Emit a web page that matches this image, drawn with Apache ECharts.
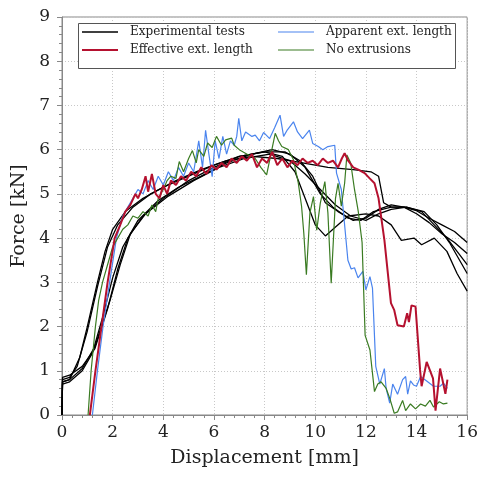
<!DOCTYPE html>
<html><head><meta charset="utf-8">
<script src="https://cdn.jsdelivr.net/npm/echarts@6/dist/echarts.min.js"></script>
<style>html,body{margin:0;padding:0;background:#fff}#c{width:481px;height:477px}</style>
</head><body><div id="c"></div>
<script>
// ---- Data (displacement [mm], force [kN]) ----
const xTicks = [0,2,4,6,8,10,12,14,16];
const yTicks = [0,1,2,3,4,5,6,7,8,9];
const seriesNames = ['Experimental tests','Effective ext. length','Apparent ext. length','No extrusions'];

const exp1 = [[0,0],[0.02,0.8],[0.3,0.85],[0.6,1.1],[1.0,1.9],[1.4,2.9],[1.8,3.8],[2.2,4.3],[2.8,4.7],[3.5,5.0],[4.5,5.3],[5.5,5.55],[6.5,5.75],[7.5,5.85],[8.5,5.8],[9.5,5.7],[10.5,5.6],[11.5,5.55],[12.2,5.5],[12.5,5.4],[12.7,4.8],[13.0,4.7],[13.5,4.7],[14.0,4.62],[14.5,4.45],[15.0,4.3],[15.5,4.15],[16,3.9]];
const exp2 = [[0,0],[0.02,0.75],[0.3,0.8],[0.7,1.3],[1.0,2.0],[1.4,3.0],[1.7,3.7],[2.0,4.2],[2.5,4.6],[3.2,4.9],[4,5.15],[5,5.4],[6,5.65],[7,5.85],[8,5.95],[8.7,5.85],[9.2,5.5],[9.6,4.9],[10.0,4.3],[10.4,4.05],[10.8,4.25],[11.3,4.5],[12,4.55],[12.5,4.5],[13,4.3],[13.4,3.95],[13.9,4.0],[14.2,3.85],[14.7,4.0],[15.2,3.7],[15.6,3.2],[16,2.8]];
const exp3 = [[0,0],[0.02,0.7],[0.3,0.75],[0.8,1.0],[1.2,1.4],[1.6,2.2],[2.0,3.1],[2.4,3.8],[3.0,4.4],[3.8,4.85],[4.6,5.15],[5.5,5.4],[6.5,5.7],[7.5,5.9],[8.3,6.0],[9.0,5.9],[9.6,5.6],[10.2,5.0],[10.7,4.7],[11.3,4.45],[11.8,4.4],[12.3,4.6],[13.0,4.7],[13.6,4.7],[14.3,4.6],[14.8,4.3],[15.3,3.9],[15.7,3.5],[16,3.2]];
const exp4 = [[0,0],[0.02,0.85],[0.3,0.9],[0.8,1.1],[1.3,1.5],[1.8,2.4],[2.2,3.3],[2.6,4.0],[3.2,4.5],[4.0,4.9],[5.0,5.3],[6.0,5.6],[7.0,5.85],[8.0,5.95],[8.8,5.95],[9.4,5.75],[9.9,5.4],[10.4,4.8],[10.9,4.6],[11.5,4.4],[12.0,4.45],[12.5,4.65],[13.0,4.75],[13.5,4.7],[14.0,4.55],[14.5,4.35],[15.0,4.1],[15.5,3.9],[16,3.65]];
const exp5 = [[0,0],[0.02,0.75],[0.3,0.8],[0.8,1.05],[1.3,1.55],[1.9,2.6],[2.3,3.4],[2.7,4.1],[3.3,4.55],[4.2,4.95],[5.2,5.3],[6.2,5.6],[7.2,5.8],[8.2,5.9],[9.0,5.75],[9.6,5.45],[10.2,5.1],[10.8,4.75],[11.4,4.5],[12.0,4.4],[12.5,4.55],[13.0,4.65],[13.6,4.7],[14.2,4.6],[14.7,4.3],[15.2,4.0],[15.6,3.7],[16,3.4]];

const effective = [[1.1,0],[1.32,1.0],[1.56,2.0],[1.8,3.0],[2.08,4.0],[2.3,4.3],[2.5,4.6],[2.7,4.75],[2.9,5.0],[3.0,4.9],[3.15,5.1],[3.3,5.4],[3.4,5.05],[3.55,5.45],[3.7,5.0],[3.85,4.9],[4.0,5.2],[4.15,5.0],[4.3,5.3],[4.5,5.2],[4.7,5.4],[4.9,5.3],[5.1,5.5],[5.3,5.4],[5.5,5.6],[5.7,5.45],[5.9,5.65],[6.1,5.55],[6.3,5.7],[6.5,5.6],[6.7,5.8],[6.9,5.7],[7.1,5.85],[7.3,5.75],[7.5,5.9],[7.7,5.6],[7.9,5.8],[8.1,5.7],[8.3,5.95],[8.5,5.65],[8.7,5.8],[8.9,5.6],[9.1,5.75],[9.3,5.65],[9.5,5.8],[9.7,5.7],[9.9,5.75],[10.1,5.65],[10.3,5.8],[10.5,5.7],[10.7,5.75],[10.9,5.6],[11.05,5.8],[11.16,5.92],[11.3,5.75],[11.5,5.6],[11.7,5.55],[11.95,5.47],[12.15,5.35],[12.34,5.24],[12.5,4.9],[12.73,3.96],[12.99,2.53],[13.12,2.37],[13.25,2.03],[13.5,2.0],[13.63,2.3],[13.7,2.1],[13.8,2.48],[13.96,2.45],[14.14,1.02],[14.2,0.65],[14.4,1.2],[14.65,0.83],[14.75,0.1],[14.93,1.05],[15.14,0.48],[15.22,0.8]];

const apparent = [[1.2,0],[1.4,1.0],[1.62,2.0],[1.88,3.0],[2.15,4.0],[2.4,4.5],[2.6,4.7],[2.8,4.9],[3.0,5.1],[3.2,5.0],[3.4,5.3],[3.6,5.1],[3.8,5.4],[4.0,5.2],[4.2,5.5],[4.4,5.3],[4.6,5.6],[4.8,5.4],[5.0,5.7],[5.2,5.5],[5.4,6.2],[5.55,5.6],[5.67,6.44],[5.8,5.9],[5.93,5.39],[6.05,6.2],[6.2,5.8],[6.35,6.3],[6.5,5.9],[6.65,6.2],[6.8,6.1],[6.9,6.3],[6.98,6.71],[7.1,6.2],[7.25,6.4],[7.5,6.3],[7.63,6.33],[7.8,6.2],[7.96,6.39],[8.2,6.25],[8.4,6.5],[8.61,6.78],[8.75,6.3],[8.9,6.45],[9.14,6.63],[9.3,6.4],[9.5,6.25],[9.77,6.44],[9.9,6.14],[10.12,6.07],[10.3,6.0],[10.5,6.07],[10.77,6.1],[10.84,5.47],[11.03,5.1],[11.29,3.5],[11.42,3.3],[11.55,3.33],[11.69,3.1],[11.88,3.25],[12.0,2.83],[12.16,3.13],[12.26,2.87],[12.39,1.1],[12.55,0.7],[12.73,1.05],[12.8,0.6],[12.94,0.27],[13.06,0.7],[13.25,0.47],[13.45,0.8],[13.57,0.87],[13.65,0.47],[13.76,0.77],[13.88,0.68],[14.0,0.65],[14.16,0.87],[14.4,0.77],[14.67,0.65],[14.93,0.65],[15.06,0.72],[15.22,0.6]];

const noExtrusions = [[1.03,0],[1.15,1.0],[1.32,2.0],[1.45,2.6],[1.6,3.0],[1.85,3.5],[2.0,3.8],[2.2,4.0],[2.4,4.2],[2.6,4.3],[2.8,4.5],[3.0,4.45],[3.2,4.6],[3.4,4.5],[3.55,4.75],[3.7,4.6],[3.8,4.9],[4.0,5.1],[4.15,5.3],[4.3,5.4],[4.5,5.35],[4.63,5.73],[4.8,5.5],[5.0,5.8],[5.15,5.98],[5.3,5.7],[5.4,6.0],[5.6,5.85],[5.75,6.15],[5.93,6.05],[6.1,6.3],[6.3,6.1],[6.46,6.22],[6.7,6.26],[6.8,6.1],[7.0,6.0],[7.24,5.92],[7.45,5.85],[7.63,5.8],[7.85,5.6],[8.08,5.43],[8.25,5.9],[8.42,6.37],[8.55,6.2],[8.68,6.07],[8.94,6.0],[9.14,5.77],[9.33,5.25],[9.46,4.72],[9.55,4.1],[9.65,3.17],[9.79,4.57],[9.93,4.94],[10.06,4.18],[10.2,4.79],[10.38,5.28],[10.5,4.57],[10.63,2.98],[10.8,4.9],[10.9,5.24],[11.03,4.72],[11.16,5.24],[11.25,5.88],[11.4,5.7],[11.55,5.1],[11.7,4.6],[11.85,3.9],[11.97,1.8],[12.16,1.47],[12.34,0.53],[12.47,0.7],[12.6,0.75],[12.8,0.6],[12.94,0.38],[13.12,0.04],[13.25,0.07],[13.45,0.33],[13.57,0.1],[13.76,0.25],[13.96,0.14],[14.16,0.25],[14.35,0.2],[14.53,0.33],[14.67,0.18],[14.9,0.3],[15.06,0.25],[15.22,0.27]];

// ---- Chart ----
const FONT = 'DejaVu Serif';
const colors = {exp:'#000000', eff:'#b5112f', app:'#4a84ee', noe:'#3a7b22'};
function line(name, data, color, width, z){
  return {name, type:'line', data, showSymbol:false, symbol:'none', lineStyle:{color, width}, itemStyle:{color}, z, animation:false};
}
const chart = echarts.init(document.getElementById('c'), null, {renderer:'canvas'});
const axisCommon = {
  axisLine:{show:true, onZero:false, lineStyle:{color:'#888', width:1}},
  axisTick:{show:true, inside:false, length:5, lineStyle:{color:'#888'}},
  minorTick:{show:true, splitNumber:5, length:3, lineStyle:{color:'#888'}},
  splitLine:{show:true, lineStyle:{color:'#c8c8c8', type:[1,2], width:1}},
  axisLabel:{color:'#222', fontFamily:FONT, fontSize:17},
  nameTextStyle:{color:'#222', fontFamily:FONT, fontSize:19}
};
const legendText = {fontFamily:FONT, fontSize:12, color:'#222', padding:[0,0,0,7]};
chart.setOption({
  backgroundColor:'#fff',
  animation:false,
  grid:{left:62, right:11, top:17, bottom:62, show:true, borderColor:'#888', borderWidth:1, containLabel:false},
  xAxis:Object.assign({}, axisCommon, {type:'value', min:xTicks[0], max:xTicks[xTicks.length-1], interval:2,
    name:'Displacement [mm]', nameLocation:'middle', nameGap:34,
    axisLabel:Object.assign({}, axisCommon.axisLabel, {margin:9})}),
  yAxis:Object.assign({}, axisCommon, {type:'value', min:yTicks[0], max:yTicks[yTicks.length-1], interval:1,
    name:'Force [kN]', nameLocation:'middle', nameGap:29,
    axisLabel:Object.assign({}, axisCommon.axisLabel, {margin:12})}),
  legend:[
    {orient:'vertical', left:82, top:26, padding:0, itemGap:6, itemWidth:36, itemHeight:14, z:20,
     data:[{name:seriesNames[0], icon:'path://M0,6 L36,6 L36,7.3 L0,7.3 Z'},{name:seriesNames[1], icon:'path://M0,5.7 L36,5.7 L36,7.7 L0,7.7 Z'}],
     textStyle:legendText},
    {orient:'vertical', left:278, top:26, padding:0, itemGap:6, itemWidth:36, itemHeight:14, z:20,
     data:[{name:seriesNames[2], icon:'path://M0,6 L36,6 L36,7.2 L0,7.2 Z'},{name:seriesNames[3], icon:'path://M0,6 L36,6 L36,7.2 L0,7.2 Z'}],
     textStyle:legendText}
  ],
  graphic:[{type:'rect', left:78, top:23, shape:{width:377, height:45}, style:{fill:'#fff', stroke:'#555', lineWidth:1}, z:2}],
  series:[
    line(seriesNames[0], exp1, colors.exp, 1.3, 3),
    line(seriesNames[0], exp2, colors.exp, 1.3, 3),
    line(seriesNames[0], exp3, colors.exp, 1.3, 3),
    line(seriesNames[0], exp4, colors.exp, 1.3, 3),
    line(seriesNames[0], exp5, colors.exp, 1.3, 3),
    line(seriesNames[2], apparent, colors.app, 1.2, 4),
    line(seriesNames[3], noExtrusions, colors.noe, 1.2, 5),
    line(seriesNames[1], effective, colors.eff, 2, 6)
  ]
});
</script></body></html>
